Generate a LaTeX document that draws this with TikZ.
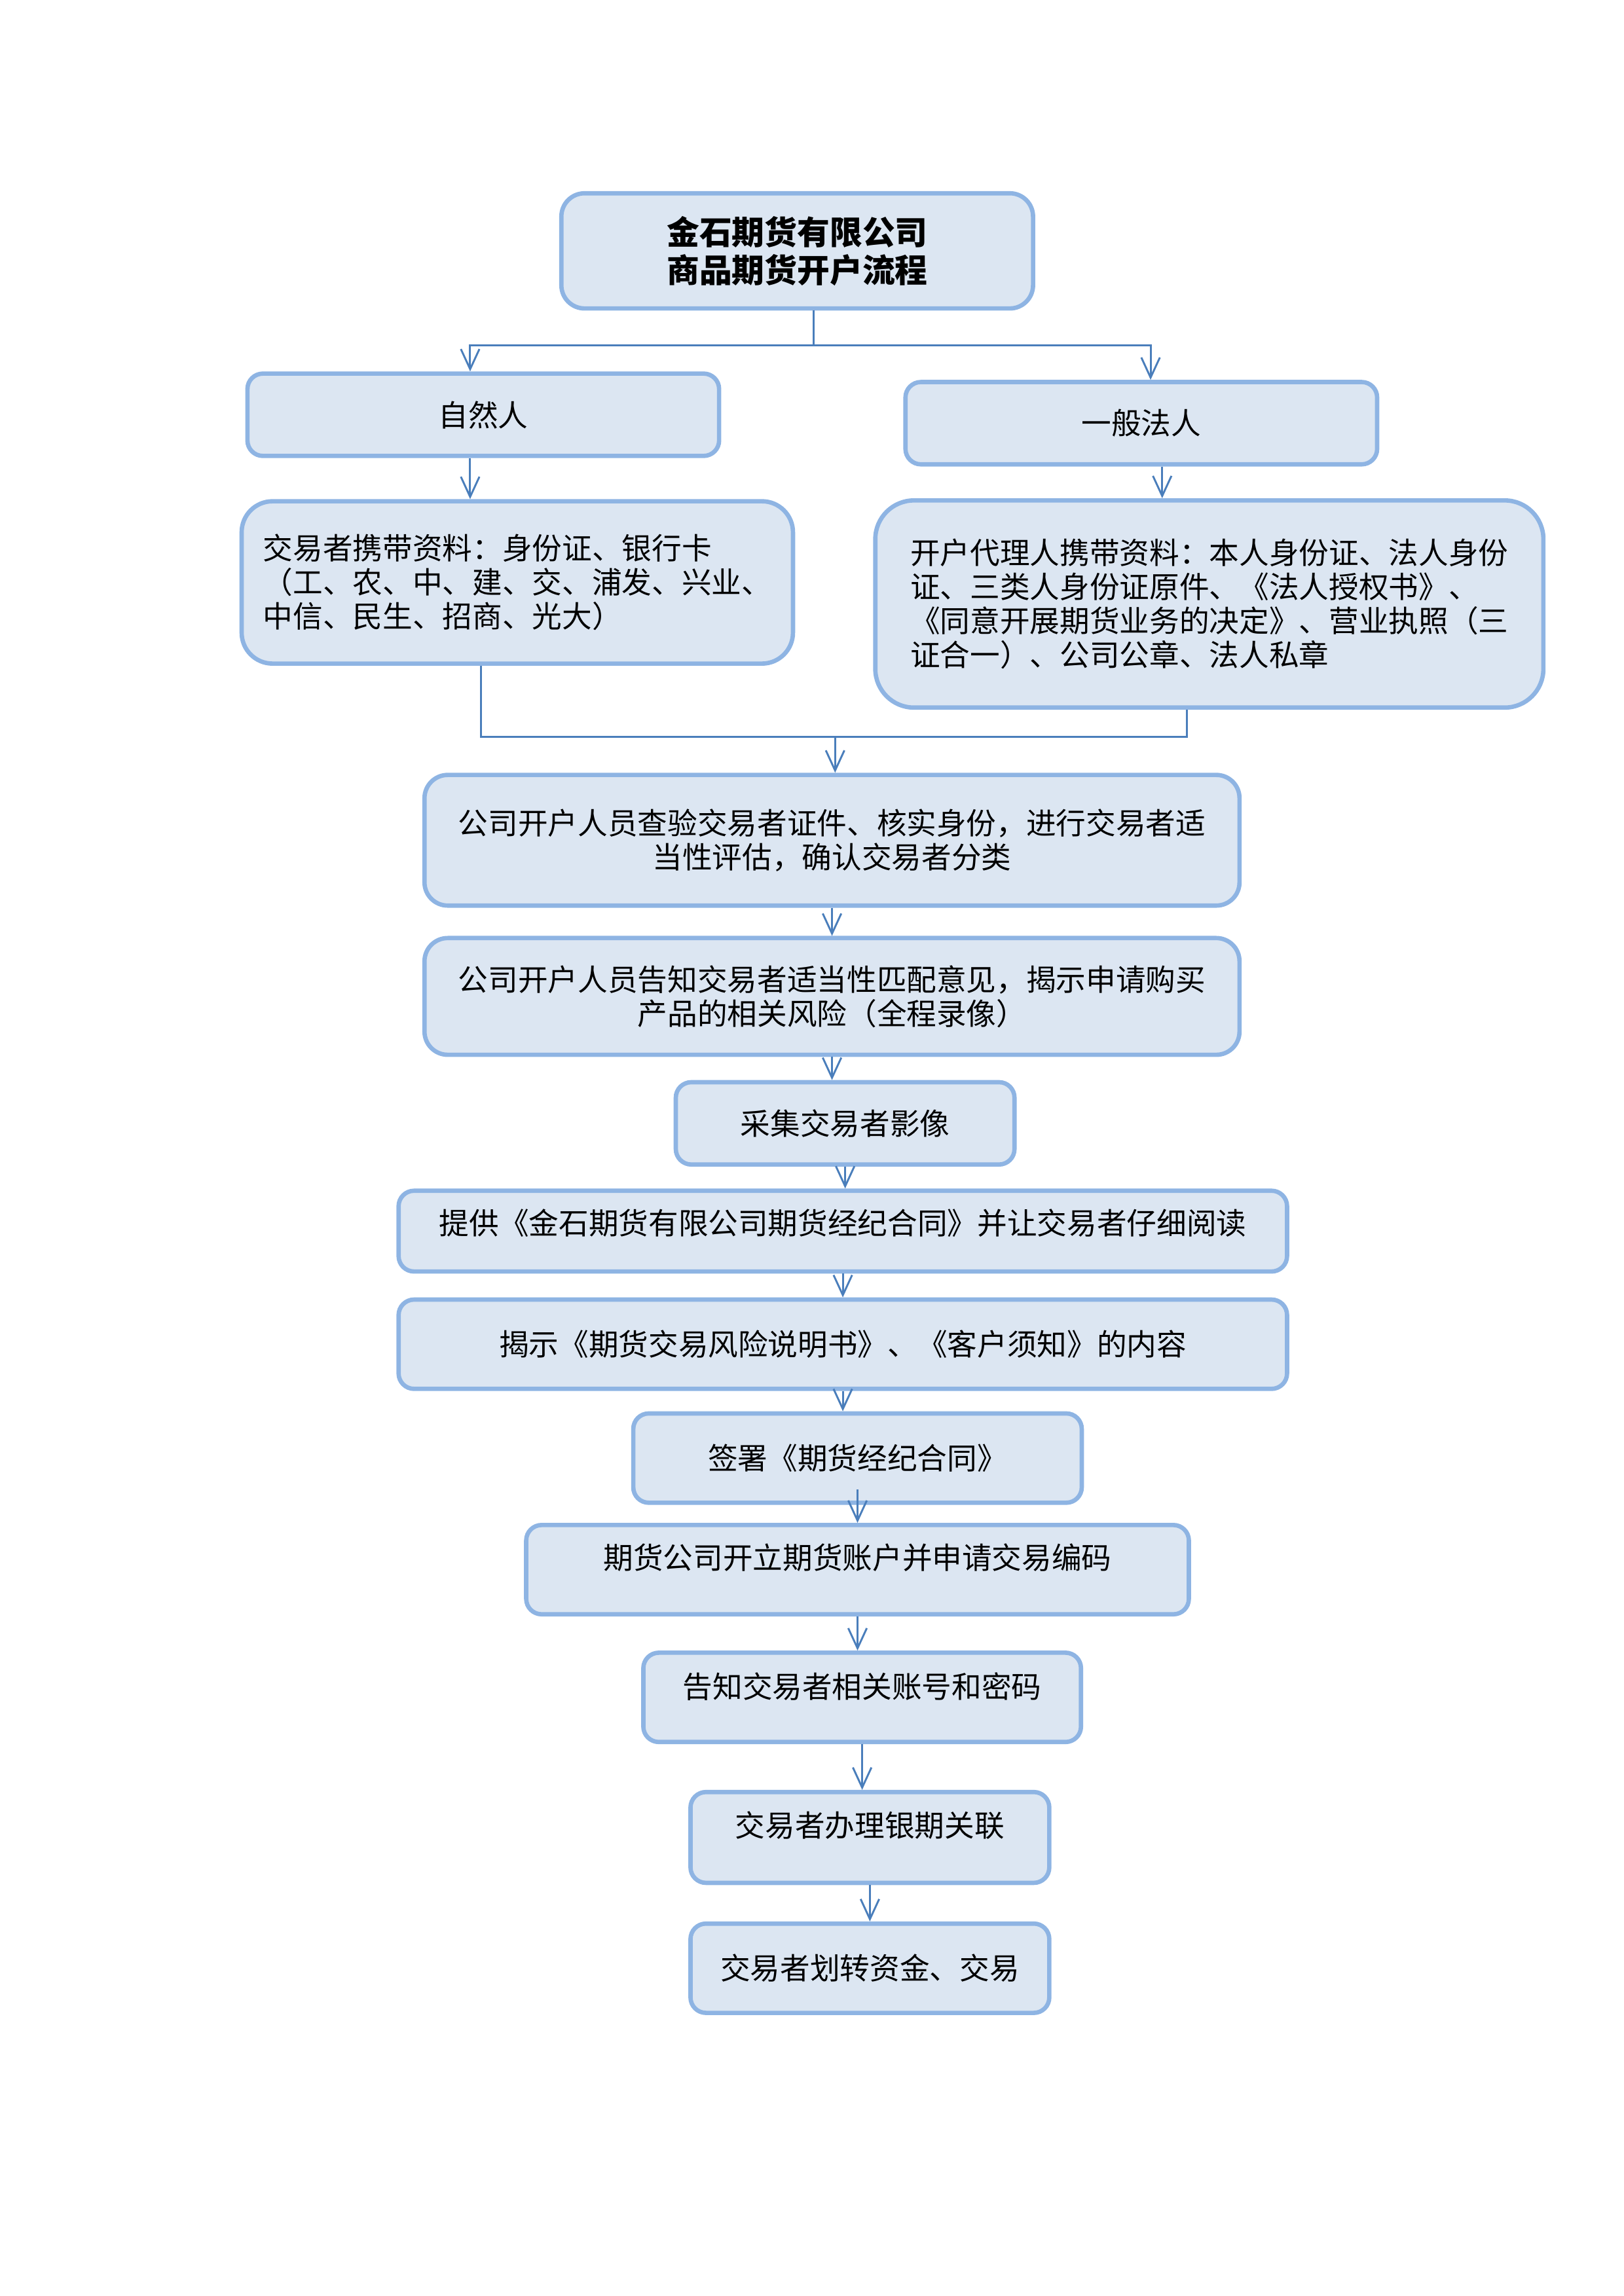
\documentclass[tikz,border=0pt]{standalone}
\usepackage{fontspec}
\setmainfont{Liberation Serif}
\newfontfamily\cjk{Noto Sans CJK SC}
\usetikzlibrary{arrows.meta}

\definecolor{boxfill}{HTML}{DCE6F2}
\definecolor{boxline}{HTML}{8EB4E3}
\definecolor{linkblue}{HTML}{4A7EBB}

\begin{document}
\begin{tikzpicture}[>={Straight Barb[length=2.6mm,width=2.4mm]},
  box/.style={draw=boxline, fill=boxfill, line width=1.6pt, rounded corners=2mm,
    align=center, inner sep=0pt, font=\cjk\fontsize{11}{12.5}\selectfont},
  lift/.style={text depth=#1},
  link/.style={draw=linkblue, line width=0.7pt, ->}]

  \useasboundingbox (0,0) rectangle (21,-29.7);


  \node[box, minimum width=6.10cm, minimum height=1.49cm, rounded corners=3mm,
    font=\cjk\bfseries\fontsize{12}{14}\selectfont] (title) at (10.31,-3.245)
    {金石期货有限公司\\商品期货开户流程};

  \node[box, minimum width=6.10cm, minimum height=1.065cm] (ziran) at (6.25,-5.365) {自然人};
  \node[box, minimum width=6.10cm, minimum height=1.065cm] (faren) at (14.76,-5.474) {一般法人};

  \node[box, minimum width=7.13cm, minimum height=2.10cm, rounded corners=4mm, align=left]
    (ziliao) at (6.69,-7.534)
    {交易者携带资料：身份证、银行卡\\（工、农、中、建、交、浦发、兴业、\\中信、民生、招商、光大）};
  \node[box, minimum width=8.64cm, minimum height=2.68cm, rounded corners=5mm, align=left]
    (daili) at (15.64,-7.813)
    {开户代理人携带资料：本人身份证、法人身份\\证、三类人身份证原件、《法人授权书》、\\《同意开展期货业务的决定》、营业执照（三\\证合一）、公司公章、法人私章};

  \node[box, minimum width=10.54cm, minimum height=1.69cm, rounded corners=3mm]
    (chayan) at (10.76,-10.869)
    {公司开户人员查验交易者证件、核实身份，进行交易者适\\当性评估，确认交易者分类};
  \node[box, minimum width=10.54cm, minimum height=1.51cm, rounded corners=3mm]
    (gaozhi) at (10.76,-12.889)
    {公司开户人员告知交易者适当性匹配意见，揭示申请购买\\产品的相关风险（全程录像）};

  \node[box, minimum width=4.38cm, minimum height=1.065cm] (caiji) at (10.93,-14.531) {采集交易者影像};
  \node[box, minimum width=11.49cm, minimum height=1.045cm, lift=0.25cm] (tigong) at (10.90,-15.925)
    {提供《金石期货有限公司期货经纪合同》并让交易者仔细阅读};
  \node[box, minimum width=11.49cm, minimum height=1.155cm] (jieshi) at (10.90,-17.388)
    {揭示《期货交易风险说明书》、《客户须知》的内容};
  \node[box, minimum width=5.80cm, minimum height=1.155cm] (qianshu) at (11.09,-18.861) {签署《期货经纪合同》};
  \node[box, minimum width=8.57cm, minimum height=1.155cm, lift=0.35cm] (kaili) at (11.09,-20.304)
    {期货公司开立期货账户并申请交易编码};
  \node[box, minimum width=5.66cm, minimum height=1.155cm, lift=0.32cm] (zhanghao) at (11.15,-21.956)
    {告知交易者相关账号和密码};
  \node[box, minimum width=4.64cm, minimum height=1.175cm, lift=0.35cm] (yinqi) at (11.25,-23.768)
    {交易者办理银期关联};
  \node[box, minimum width=4.64cm, minimum height=1.155cm] (huazhuan) at (11.25,-25.46)
    {交易者划转资金、交易};


  \coordinate (fork) at (10.52,-4.469);
  \draw[link, -] (fork) -- (fork |- title.south);
  \draw[link] (fork) -| ([xshift=-1.7mm]ziran.north);
  \draw[link] (fork) -| ([xshift=1.2mm]faren.north);

  \draw[link] ([xshift=-1.7mm]ziran.south) -- ([xshift=-1.7mm]ziran.south |- ziliao.north);
  \draw[link] ([xshift=2.7mm]faren.south) -- ([xshift=2.7mm]faren.south |- daili.north);

  \coordinate (join) at (10.80,-9.535);
  \draw[link, -] ([xshift=-4.7mm]ziliao.south) |- (join);
  \draw[link, -] ([xshift=-2.9mm]daili.south) |- (join);
  \draw[link] (join) -- (join |- chayan.north);

  \foreach \a/\b in {chayan/gaozhi, gaozhi/caiji, caiji/tigong, tigong/jieshi,
      jieshi/qianshu, kaili/zhanghao, zhanghao/yinqi, yinqi/huazhuan}
    \draw[link] (\a.south) -- (\a.south |- \b.north);
  \draw[link] ([yshift=2mm]qianshu.south) -- (qianshu.south |- kaili.north);

\end{tikzpicture}
\end{document}
